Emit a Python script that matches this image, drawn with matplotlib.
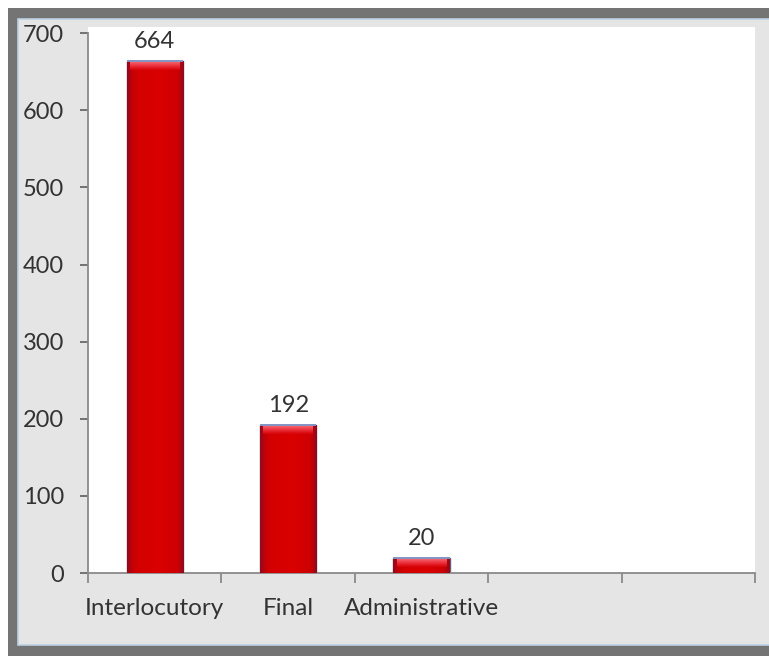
import numpy as np
import matplotlib.pyplot as plt
from matplotlib.patches import Rectangle
from matplotlib.colors import LinearSegmentedColormap

plt.rcParams["font.family"] = ["Lato", "DejaVu Sans"]

# Order types and counts
categories = ["Interlocutory", "Final", "Administrative", "", ""]
counts = [664, 192, 20]
y_ticks = [0, 100, 200, 300, 400, 500, 600, 700]

fig = plt.figure(figsize=(7.69, 6.56), dpi=100)
fig.patch.set_facecolor("white")

# Frame around the chart: dark border with a light grey panel inside
fig.patches.append(Rectangle((0.0104, 0.0), 1.0, 0.9878, transform=fig.transFigure,
                             facecolor="#747474", edgecolor="none", zorder=0))
fig.patches.append(Rectangle((0.0234, 0.0168), 1.0, 0.9542, transform=fig.transFigure,
                             facecolor="#E5E5E5", edgecolor="#BCD0E4", linewidth=1.2, zorder=1))

ax = fig.add_axes([0.1144, 0.1265, 0.8674, 0.8323])
ax.set_facecolor("white")
ax.set_zorder(2)

x = np.arange(len(categories))
width = 0.42
bars = ax.bar(x[:len(counts)], counts, width, color="#D20000",
              edgecolor="#6C5C78", linewidth=1.0, zorder=2)

ax.set_xlim(-0.5, len(categories) - 0.5)
ax.set_ylim(0, 708)

# Shading across each bar (darker rims) plus a lighter bevel at the top
shade = LinearSegmentedColormap.from_list(
    "shade", [(0.0, "#8A0C20"), (0.08, "#C20008"), (0.2, "#D40000"), (0.6, "#DA0000"),
              (0.9, "#CC0004"), (1.0, "#8A0C20")])
bevel = LinearSegmentedColormap.from_list("bevel", ["#D60006", "#EC3440", "#F6707A"])
grad = np.linspace(0, 1, 256).reshape(1, -1)
bevel_h = 708 * 9 / 546
for b, v in zip(bars, counts):
    x0 = b.get_x()
    w = b.get_width()
    im = ax.imshow(grad, cmap=shade, aspect="auto", extent=(x0, x0 + w, 0, v),
                   zorder=3, interpolation="bicubic")
    im.set_clip_path(b)
    top = ax.imshow(np.linspace(0, 1, 64).reshape(-1, 1), cmap=bevel, aspect="auto",
                    extent=(x0 + w * 0.06, x0 + w * 0.94, v - bevel_h, v),
                    origin="lower", zorder=4, interpolation="bicubic")
    top.set_clip_path(b)
    ax.plot([x0, x0 + w], [v, v], color="#8494C4", linewidth=1.4, zorder=5,
            solid_capstyle="butt")
    ax.annotate(str(v), (b.get_x() + w / 2, v), xytext=(0, 6.5), textcoords="offset points",
                ha="center", va="bottom", fontsize=17, color="#333333", zorder=6)

# Axes styling
for side in ["top", "right"]:
    ax.spines[side].set_visible(False)
for side in ["left", "bottom"]:
    ax.spines[side].set_color("#8A8A8A")
    ax.spines[side].set_linewidth(1.3)
ax.spines["left"].set_bounds(0, 700)

ax.set_yticks(y_ticks)
ax.tick_params(axis="y", length=6, width=1.3, color="#6A6A6A", pad=11,
               labelsize=17, labelcolor="#333333")

# Ticks between categories, labels under the category centres
ax.set_xticks(np.arange(len(categories) + 1) - 0.5)
ax.set_xticklabels([])
ax.tick_params(axis="x", which="major", length=7, width=1.3, color="#8A8A8A")
ax.set_xticks(x, minor=True)
ax.set_xticklabels(categories, minor=True)
ax.tick_params(axis="x", which="minor", length=0, pad=18, labelsize=17.5, labelcolor="#333333")

fig.savefig("out.png", dpi=100)
